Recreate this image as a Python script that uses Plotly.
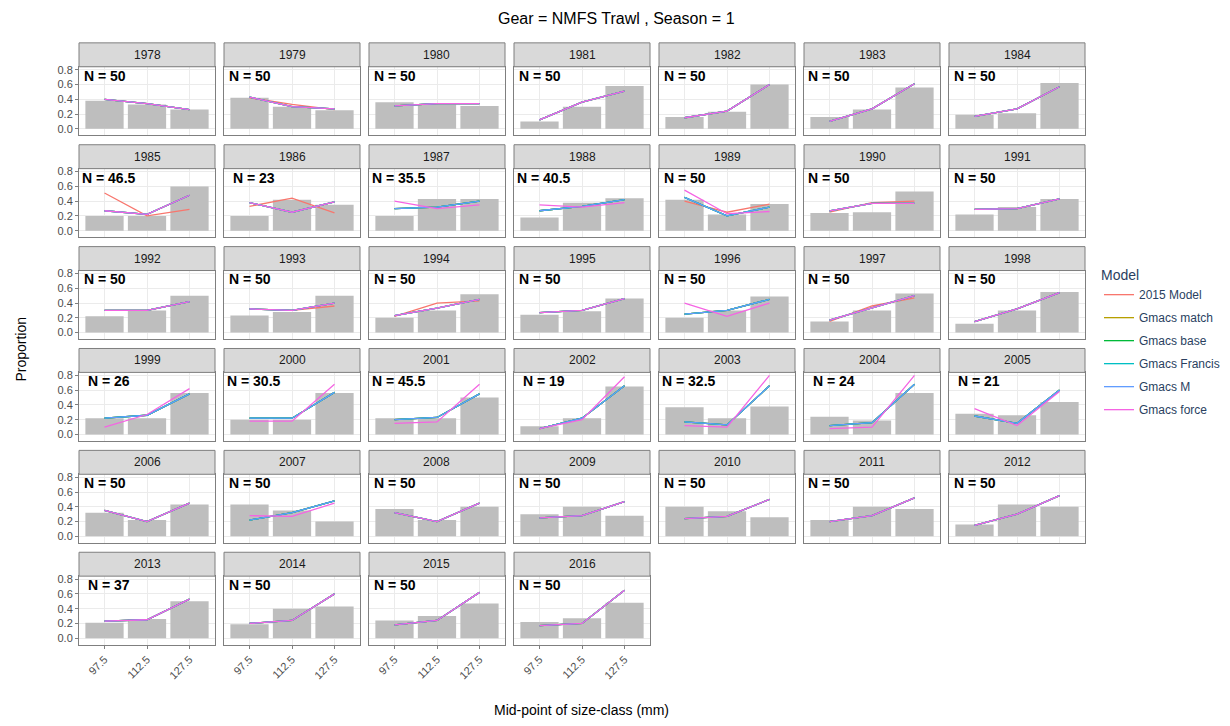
import plotly.graph_objects as go

years = list(range(1978, 2017))
size_classes = ["97.5", "112.5", "127.5"]
n_samples = [50,50,50,50,50,50,50,46.5,23,35.5,40.5,50,50,50,50,50,50,50,50,50,50,
             26,30.5,45.5,19,32.5,24,21,50,50,50,50,50,50,50,37,50,50,50]
obs = [
 [.38,.33,.26],[.42,.30,.25],[.36,.33,.31],[.10,.30,.58],[.16,.23,.60],[.16,.26,.56],[.19,.21,.62],
 [.20,.20,.60],[.20,.42,.35],[.20,.43,.43],[.18,.38,.44],[.42,.22,.36],[.24,.25,.53],[.22,.32,.43],
 [.22,.30,.50],[.23,.28,.50],[.20,.30,.52],[.24,.29,.46],[.20,.30,.49],[.15,.30,.53],[.12,.30,.55],
 [.22,.22,.56],[.20,.20,.56],[.22,.22,.50],[.11,.22,.65],[.37,.22,.38],[.24,.19,.56],[.28,.26,.44],
 [.32,.22,.43],[.43,.35,.20],[.37,.22,.40],[.30,.40,.28],[.40,.34,.26],[.22,.40,.37],[.16,.43,.40],
 [.21,.26,.50],[.19,.40,.43],[.24,.30,.47],[.22,.27,.48]]
pred_common = [
 [.40,.34,.26],[.43,.30,.27],[.31,.34,.34],[.12,.36,.51],[.15,.24,.60],[.10,.27,.61],[.17,.27,.57],
 [.27,.22,.48],[.38,.25,.39],[.30,.32,.40],[.27,.33,.42],[.45,.20,.32],[.27,.37,.37],[.29,.30,.43],
 [.30,.30,.42],[.32,.30,.40],[.23,.33,.45],[.27,.30,.46],[.25,.30,.45],[.17,.33,.50],[.15,.32,.54],
 [.22,.26,.55],[.22,.22,.57],[.20,.23,.55],[.08,.22,.66],[.17,.13,.66],[.12,.16,.68],[.25,.15,.60],
 [.35,.20,.45],[.22,.32,.48],[.32,.20,.45],[.25,.28,.47],[.24,.27,.50],[.20,.28,.52],[.15,.30,.55],
 [.23,.25,.53],[.20,.24,.60],[.18,.24,.62],[.17,.20,.65]]
pred_2015 = {1979:[.42,.33,.26],1985:[.51,.20,.29],1986:[.33,.44,.24],1989:[.40,.25,.36],
             1990:[.25,.38,.40],1993:[.32,.30,.36],1994:[.22,.40,.43],1997:[.15,.36,.47]}
pred_force = {1987:[.40,.30,.35],1988:[.35,.32,.38],1989:[.55,.23,.26],1996:[.40,.22,.40],
              1999:[.10,.27,.62],2000:[.18,.18,.68],2001:[.15,.17,.68],2002:[.08,.20,.78],
              2003:[.12,.10,.80],2004:[.08,.10,.80],2005:[.35,.12,.58],2007:[.28,.27,.45]}
models = ["2015 Model","Gmacs match","Gmacs base","Gmacs Francis","Gmacs M","Gmacs force"]
colors = ["#F8766D","#B79F00","#00BA38","#00BFC4","#619CFF","#F564E3"]
overrides = {"2015 Model": pred_2015, "Gmacs force": pred_force}

W, H = 1230, 726
OX, OY = 7, 10
fig = go.Figure()
layout = {}
shapes, annots = [], []
for i, yr in enumerate(years):
    r, c = divmod(i, 7)
    k = i + 1
    x0 = 78 + 145*c - OX; x1 = x0 + 136
    yt = 66 + 102.3*r - OY; yb = yt + 69
    xa = f"xaxis{k if k>1 else ''}"; ya = f"yaxis{k if k>1 else ''}"
    bottom = r == 5
    layout[xa] = dict(domain=[x0/W, x1/W], anchor=f"y{k}", range=[0.4, 3.6],
                      tickvals=[1,2,3], ticktext=size_classes, showticklabels=bottom,
                      tickangle=-45, showgrid=True, gridcolor="#EBEBEB", showline=True,
                      mirror=True, linecolor="#7F7F7F", linewidth=1, zeroline=False,
                      ticks="outside" if bottom else "", ticklen=3, tickcolor="#7F7F7F",
                      tickfont=dict(size=11, color="#4D4D4D"))
    layout[ya] = dict(domain=[1-yb/H, 1-yt/H], anchor=f"x{k}", range=[-0.09, 0.84],
                      tickvals=[0,.2,.4,.6,.8], ticktext=["0.0","0.2","0.4","0.6","0.8"],
                      showticklabels=(c == 0), showgrid=True, gridcolor="#EBEBEB",
                      showline=True, mirror=True, linecolor="#7F7F7F", zeroline=False,
                      ticks="outside" if c == 0 else "", ticklen=3, tickcolor="#7F7F7F",
                      tickfont=dict(size=11, color="#4D4D4D"))
    fig.add_trace(go.Bar(x=[1,2,3], y=obs[i], width=0.9, marker_color="#BEBEBE",
                         marker_line_width=0, showlegend=False, xaxis=f"x{k}", yaxis=f"y{k}"))
    for m, col in zip(models, colors):
        vals = overrides.get(m, {}).get(yr, pred_common[i])
        fig.add_trace(go.Scatter(x=[1,2,3], y=vals, mode="lines", line=dict(color=col, width=1.3),
                                 name=m, legendgroup=m, showlegend=(i == 0),
                                 xaxis=f"x{k}", yaxis=f"y{k}"))
    shapes.append(dict(type="rect", xref="paper", yref="paper", x0=x0/W, x1=x1/W,
                       y0=1-(yt)/H, y1=1-(yt-24)/H, fillcolor="#D9D9D9",
                       line=dict(color="#7F7F7F", width=1)))
    annots.append(dict(x=(x0+x1)/2/W, y=1-(yt-12)/H, xref="paper", yref="paper", text=str(yr),
                       showarrow=False, xanchor="center", yanchor="middle",
                       font=dict(size=12, color="#1A1A1A")))
    nt = f"{n_samples[i]:g}"
    annots.append(dict(x=1 if n_samples[i] == 50 else 1.1, y=0.72, xref=f"x{k}", yref=f"y{k}",
                       text=f"<b>N = {nt}</b>", showarrow=False, xanchor="center",
                       yanchor="middle", font=dict(size=14, color="black")))

annots += [
    dict(x=(615-OX)/W, y=1-(18-OY)/H, xref="paper", yref="paper", text="Gear = NMFS Trawl , Season = 1",
         showarrow=False, xanchor="center", yanchor="middle", font=dict(size=16, color="black")),
    dict(x=(580-OX)/W, y=1-(712-OY)/H, xref="paper", yref="paper", text="Mid-point of size-class (mm)",
         showarrow=False, xanchor="center", yanchor="middle", font=dict(size=14, color="black")),
    dict(x=(20-OX)/W, y=1-(350-OY)/H, xref="paper", yref="paper", text="Proportion", textangle=-90,
         showarrow=False, xanchor="center", yanchor="middle", font=dict(size=14, color="black")),
]
fig.update_layout(**layout)
fig.update_layout(width=W, height=H, margin=dict(l=0, r=0, t=0, b=0), plot_bgcolor="white",
                  paper_bgcolor="white", shapes=shapes, annotations=annots, barmode="overlay",
                  font=dict(family="Liberation Sans, Arial, sans-serif"),
                  legend=dict(x=(1098-OX)/W, y=1-(262-OY)/H, xanchor="left", yanchor="top",
                              title=dict(text="Model", font=dict(size=14)),
                              font=dict(size=12), tracegroupgap=4))
fig.write_html("out.html")
